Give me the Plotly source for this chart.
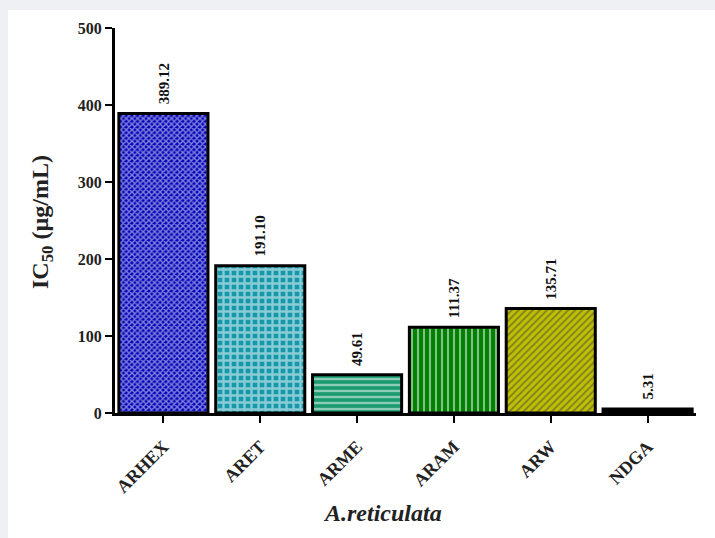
import plotly.graph_objects as go

categories = ["ARHEX", "ARET", "ARME", "ARAM", "ARW", "NDGA"]
values = [389.12, 191.10, 49.61, 111.37, 135.71, 5.31]
value_labels = ["389.12", "191.10", "49.61", "111.37", "135.71", "5.31"]
y_ticks = [0, 100, 200, 300, 400, 500]

bg_colors = ["#0000b8", "#1598aa", "#1a9a6e", "#008000", "#c0c000", "#000000"]
fg_colors = ["#000010", "#000000", "#000000", "#000000", "#000000", "#000000"]
shapes_p = ["x", "+", "-", "|", "/", ""]
sizes = [4, 7, 6, 6, 5, 8]
solid = [0.6, 0.55, 0.4, 0.35, 0.4, 0.3]

L, R, T, B = 115, 19, 28, 125
W, H = 715, 538
pw, ph = W - L - R, H - T - B

fig = go.Figure()
fig.add_trace(go.Bar(
    x=categories, y=values,
    marker=dict(
        color=bg_colors,
        line=dict(color="black", width=3),
        pattern=dict(shape=shapes_p, fgcolor=fg_colors,
                     size=sizes, solidity=solid, fillmode="overlay"),
    ),
    width=0.92,
))

for c, v, t in zip(categories, values, value_labels):
    fig.add_annotation(x=c, y=v, text="<b>" + t + "</b>", textangle=-90, showarrow=False,
                       xanchor="center", yanchor="bottom", yshift=7,
                       font=dict(family="Liberation Serif", size=15, color="#111111"))

# axis titles
fig.add_annotation(xref="paper", yref="paper", x=(42 - L) / pw, y=(T + ph - 222) / ph,
                   text="<b>IC<sub>50</sub> (µg/mL)</b>", textangle=-90, showarrow=False,
                   xanchor="center", yanchor="middle",
                   font=dict(family="Liberation Serif", size=24, color="#222222"))
fig.add_annotation(xref="paper", yref="paper", x=(382 - L) / pw, y=(T + ph - 513) / ph,
                   text="<b><i>A.reticulata</i></b>", showarrow=False,
                   xanchor="center", yanchor="middle",
                   font=dict(family="Liberation Serif", size=24, color="#222222"))

fig.add_shape(type="rect", xref="paper", yref="paper",
              x0=(8 - L) / pw, x1=(W + 5 - L) / pw,
              y0=(T + ph - H - 5) / ph, y1=(T + ph - 10) / ph,
              fillcolor="white", line=dict(width=0), layer="below")

fig.update_layout(
    width=W, height=H,
    margin=dict(l=L, r=R, t=T, b=B),
    paper_bgcolor="#eef0f3", plot_bgcolor="rgba(0,0,0,0)",
    showlegend=False,
    font=dict(family="Liberation Serif", color="black"),
    bargap=0.07,
)
fig.update_yaxes(range=[0, 500], tickvals=y_ticks, showgrid=False, zeroline=False,
                 showline=True, linecolor="black", linewidth=3,
                 ticks="outside", ticklen=7, tickwidth=2, tickcolor="black",
                 tickfont=dict(family="Liberation Serif", size=16, color="#222222", weight="bold"))
fig.update_xaxes(showgrid=False, showline=True, linecolor="black", linewidth=3,
                 ticks="outside", ticklen=7, tickwidth=2, tickcolor="black",
                 tickangle=-45, ticklabelstandoff=6,
                 tickfont=dict(family="Liberation Serif", size=18, color="#222222", weight="bold"))

fig.write_html("out.html", config={"displayModeBar": False},
               post_script="document.body.style.margin='0';document.body.style.background='#eef0f3';")
